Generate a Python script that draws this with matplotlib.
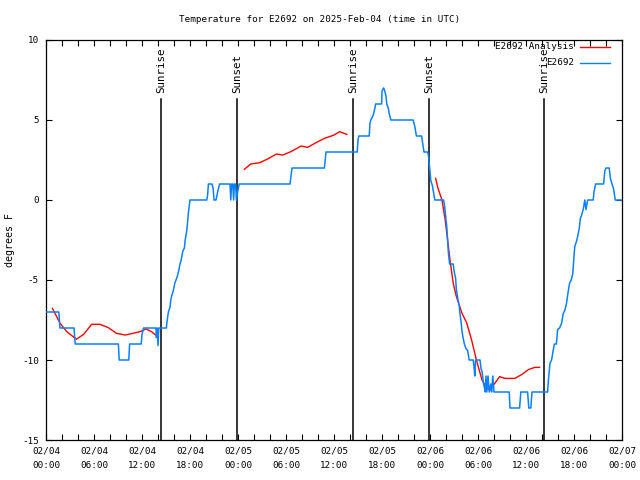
import numpy as np
import matplotlib
matplotlib.use("Agg")
import matplotlib.pyplot as plt
from matplotlib.lines import Line2D

# ---- data (hours since 2025-02-04 00:00 UTC) ----
obs_hours = [0.0, 1.6, 1.75, 3.5, 3.65, 9.05, 9.15, 10.35, 10.45, 11.9, 12.0, 12.2, 13.75, 13.8, 13.9, 14.0, 14.1,
             15.05, 15.1, 15.3, 15.5, 15.6, 15.7, 15.9, 16.1, 16.25, 16.4, 16.6, 16.75, 16.9, 17.1, 17.3, 17.4, 17.6,
             17.8, 17.9, 18.0, 20.1, 20.2, 20.3, 20.75, 20.9, 21.0, 21.25, 21.5, 21.7, 23.0, 23.1, 23.2, 23.35, 23.45,
             23.55, 23.7, 23.8, 23.95, 24.15, 30.5, 30.75, 34.8, 35.0, 38.9, 39.0, 39.1, 40.4, 40.5, 40.6, 40.9, 41.1,
             41.2, 41.95, 42.0, 42.2, 42.3, 42.5, 42.6, 42.8, 42.9, 43.1, 45.9, 46.1, 46.3, 46.95, 47.1, 47.25, 47.7,
             47.8, 47.9, 48.0, 48.1, 48.3, 48.4, 48.5, 48.6, 49.7, 49.8, 49.9, 50.0, 50.1, 50.2, 50.3, 50.45, 50.9,
             51.0, 51.2, 51.3, 51.5, 51.65, 51.75, 51.9, 52.0, 52.15, 52.3, 52.5, 52.7, 52.9, 53.4, 53.5, 53.6, 53.7,
             54.25, 54.4, 54.5, 54.7, 54.8, 54.9, 55.0, 55.1, 55.25, 55.4, 55.6, 55.7, 55.85, 56.0, 57.9, 58.0, 59.2,
             59.35, 60.2, 60.35, 60.6, 60.75, 62.7, 62.8, 63.0, 63.2, 63.4, 63.55, 63.8, 63.95, 64.2, 64.45, 64.65,
             64.85, 65.05, 65.25, 65.45, 65.65, 65.85, 66.0, 66.1, 66.3, 66.45, 66.65, 66.8, 66.95, 67.15, 67.35,
             67.5, 67.7, 68.4, 68.5, 68.7, 69.7, 69.85, 70.0, 70.4, 70.55, 70.75, 70.95, 71.15, 72.0]
obs_temp = [-7, -7, -8, -8, -9, -9, -10, -10, -9, -9, -8.4, -8, -8, -8.6, -8, -9.1, -8,
            -8, -7.7, -7, -6.7, -6.25, -6, -5.7, -5.2, -5, -4.8, -4.4, -4, -3.75, -3.2, -3, -2.5, -1.9,
            -0.8, -0.4, 0, 0, 0.3, 1, 1, 0.7, 0, 0, 0.6, 1, 1, 0, 1, 1, 0,
            1, 1, 0, 0.5, 1, 1, 2, 2, 3, 3, 3.75, 4, 4, 4.8, 5, 5.3, 5.7,
            6, 6, 6.8, 7, 6.9, 6.5, 6, 5.7, 5.4, 5, 5, 4.6, 4, 4, 3.5, 3, 3,
            2.8, 2.3, 1.8, 1.2, 0.9, 0.6, 0.3, 0, 0, -0.3, -0.7, -1.25, -1.7, -2.5, -3.3, -4, -4,
            -4.4, -4.9, -5.6, -6.25, -6.6, -7.1, -7.7, -8.2, -8.65, -9, -9.3, -9.4, -10, -10, -10.4, -11, -10,
            -10, -10.6, -10.7, -11.5, -11.7, -12, -11, -12, -11, -12, -11.5, -12, -11, -12, -12, -13, -13,
            -12, -12, -13, -13, -12, -12, -11.25, -10.2, -10, -9.4, -9, -9, -8.1, -8, -7.7, -7.1,
            -6.9, -6.5, -5.8, -5.2, -5, -4.6, -3.5, -2.9, -2.6, -2.3, -1.8, -1.15, -0.95, -0.6, 0,
            -0.6, 0, 0, 0.5, 1, 1, 1.8, 2, 2, 1.35, 1, 0.7, 0, 0]

ana_hours = [0.8, 1.75, 2.6, 3.8, 4.7, 5.7, 6.75, 7.8, 8.8, 9.9, 10.9, 11.75, 12.5, 13.2, 13.8, np.nan,
             24.8, 25.6, 26.7, 27.7, 28.8, 29.6, 30.6, 31.9, 32.7, 33.75, 34.8, 36.0, 36.7, 37.6, np.nan,
             48.7, 49.0, 49.5, 49.9, 50.2, 50.5, 50.9, 51.3, 52.0, 52.6, 53.2, 53.8, 54.5, 55.1, 55.5, 56.1,
             56.7, 57.4, 58.6, 59.5, 60.3, 61.1, 61.7]
ana_temp = [-6.77, -7.7, -8.23, -8.7, -8.4, -7.77, -7.77, -7.98, -8.33, -8.44, -8.33, -8.23, -8.06, -8.23, -8.48, np.nan,
            1.92, 2.25, 2.33, 2.56, 2.875, 2.81, 3.02, 3.375, 3.29, 3.58, 3.85, 4.06, 4.27, 4.1, np.nan,
            1.35, 0.73, 0.0, -1.25, -2.5, -3.75, -5.2, -6.04, -7.08, -7.7, -8.75, -10.0, -11.25, -11.77, -11.875, -11.46,
            -11.04, -11.15, -11.15, -10.9, -10.6, -10.46, -10.46]

sun_hours = [14.375, 23.875, 38.375, 47.875, 62.25]
sun_labels = ["Sunrise", "Sunset", "Sunrise", "Sunset", "Sunrise"]

tick_hours = [0, 6, 12, 18, 24, 30, 36, 42, 48, 54, 60, 66, 72]
tick_labels = ["02/04\n00:00", "02/04\n06:00", "02/04\n12:00", "02/04\n18:00",
               "02/05\n00:00", "02/05\n06:00", "02/05\n12:00", "02/05\n18:00",
               "02/06\n00:00", "02/06\n06:00", "02/06\n12:00", "02/06\n18:00",
               "02/07\n00:00"]
yticks = [-15, -10, -5, 0, 5, 10]

# ---- style ----
FONT = "DejaVu Sans Mono"
FS = 6.7
BLUE = "#0a80ff"
RED = "#ff0000"

fig = plt.figure(figsize=(6.4, 4.8), dpi=100)
ax = fig.add_axes([46/640, 1-440/480, 576/640, 400/480])

ax.plot(ana_hours, ana_temp, color=RED, lw=1.0, zorder=3)
ax.plot(obs_hours, obs_temp, color=BLUE, lw=1.1, zorder=4)

for h, lab in zip(sun_hours, sun_labels):
    ax.axvline(h, ymin=0, ymax=(440-99)/400, color="black", lw=1.1, zorder=2)
    ax.text(h + 0.08, (440-93)/400, lab, rotation=90, ha="center", va="bottom",
            transform=ax.get_xaxis_transform(), family=FONT, fontsize=7.8)

ax.set_xlim(0, 72)
ax.set_ylim(-15, 10)
ax.set_xticks(tick_hours)
ax.set_xticklabels(tick_labels, family=FONT, fontsize=FS, linespacing=1.7)
ax.set_xticks(np.arange(0, 73, 2), minor=True)
ax.set_yticks(yticks)
ax.set_yticklabels([str(v) for v in yticks], family=FONT, fontsize=FS)
ax.tick_params(which="both", direction="in", top=True, right=True, length=4, width=0.8, color="black")
ax.tick_params(axis="x", which="major", pad=5)
ax.tick_params(axis="y", which="major", pad=5)
for s in ax.spines.values():
    s.set_linewidth(0.9)

ax.set_ylabel("degrees F", family=FONT, fontsize=7.2)
ax.yaxis.set_label_coords(-(46-15)/576, 0.5)

fig.text(0.5, 1-19/480, "Temperature for E2692 on 2025-Feb-04 (time in UTC)",
         ha="center", va="center", family=FONT, fontsize=FS)

# legend (top right, gnuplot style)
for yy, lab, col in [((440-47)/400, "E2692 Analysis", RED), ((440-63)/400, "E2692", BLUE)]:
    ax.text((574-46)/576, yy, lab, ha="right", va="center", transform=ax.transAxes,
            family=FONT, fontsize=FS, zorder=5)
    ax.add_line(Line2D([(580-46)/576, (610-46)/576], [yy, yy], transform=ax.transAxes,
                       color=col, lw=1.0, zorder=5))

fig.savefig("out.png", dpi=100)
